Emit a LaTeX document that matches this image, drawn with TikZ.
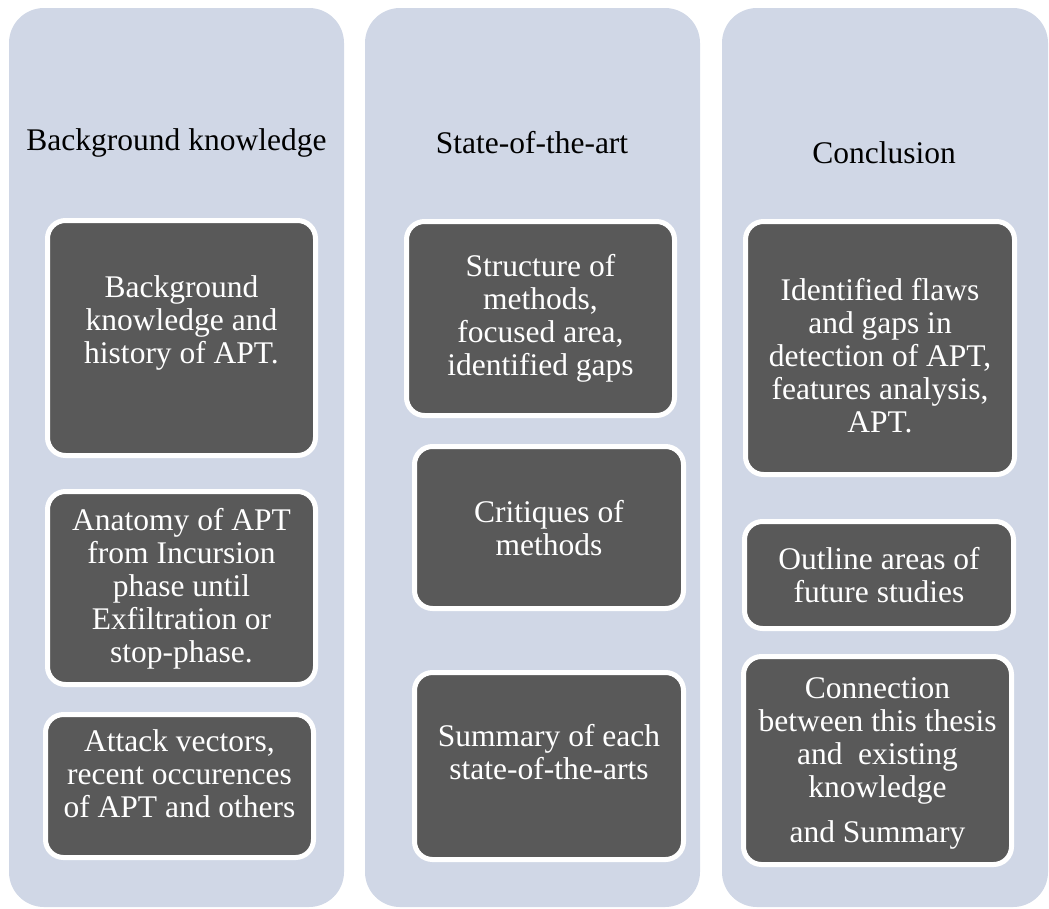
\documentclass[tikz,border=0pt]{standalone}
\usepackage{fontspec}
\setmainfont{Liberation Serif}
\definecolor{panelc}{RGB}{208,215,230}
\definecolor{darkc}{RGB}{89,89,89}
\begin{document}
\begin{tikzpicture}[x=1pt,y=-1pt,
  panel/.style={fill=panelc, draw=none, rounded corners=35pt},
  dbox/.style={fill=darkc, draw=white, line width=5pt, rounded corners=18pt, inner sep=0pt, outer sep=0pt},
  txt/.style={text=white, align=center, font=\fontsize{31.5}{33}\selectfont, inner sep=0pt},
  ttl/.style={text=black, align=center, font=\fontsize{31.5}{33}\selectfont, inner sep=0pt}]
\useasboundingbox (0,0) rectangle (1049,908);
% panels
\fill[panel] (9,8) rectangle (344,907);
\fill[panel] (365,8) rectangle (700,907);
\fill[panel] (722,8) rectangle (1048,907);
% titles
\node[ttl] (t1) at (176.5,143) {Background knowledge};
\node[ttl] (t2) at (532,143) {State-of-the-art};
\node[ttl] (t3) at (884,153) {Conclusion};
% column 1
\node[dbox, minimum width=268pt, minimum height=235pt] (a1) at (181.5,338) {};
\node[txt] (a1t) at (181.5,323) {Background\\knowledge and\\history of APT.};
\node[dbox, minimum width=268pt, minimum height=193pt] (a2) at (181.5,588) {};
\node[txt] (a2t) at (181.5,589) {Anatomy of APT\\from Incursion\\phase until\\Exfiltration or\\stop-phase.};
\node[dbox, minimum width=268pt, minimum height=143pt] (a3) at (179.5,786) {};
\node[txt] (a3t) at (179.5,774) {Attack vectors,\\recent occurences\\of APT and others};
% column 2
\node[dbox, minimum width=268pt, minimum height=194pt] (b1) at (540.5,318.5) {};
\node[txt] (b1t) at (540.5,318) {Structure of\\methods,\\focused area,\\identified gaps};
\node[dbox, minimum width=269pt, minimum height=162pt] (b2) at (549,527.5) {};
\node[txt] (b2t) at (549,528) {Critiques of\\methods};
\node[dbox, minimum width=269pt, minimum height=187pt] (b3) at (549,766) {};
\node[txt] (b3t) at (549,752) {Summary of each\\state-of-the-arts};
% column 3
\node[dbox, minimum width=269pt, minimum height=253pt] (c1) at (880,348) {};
\node[txt] (c1t) at (880,356) {Identified flaws\\and gaps in\\detection of APT,\\features analysis,\\APT.};
\node[dbox, minimum width=269pt, minimum height=107pt] (c2) at (879,575) {};
\node[txt] (c2t) at (879,575) {Outline areas of\\future studies};
\node[dbox, minimum width=268pt, minimum height=208pt] (c3) at (877.5,760.5) {};
\node[txt] (c3t) at (877.5,763) {Connection\\between this thesis\\and\ \ existing\\knowledge\\[12pt]and Summary};
\end{tikzpicture}
\end{document}
